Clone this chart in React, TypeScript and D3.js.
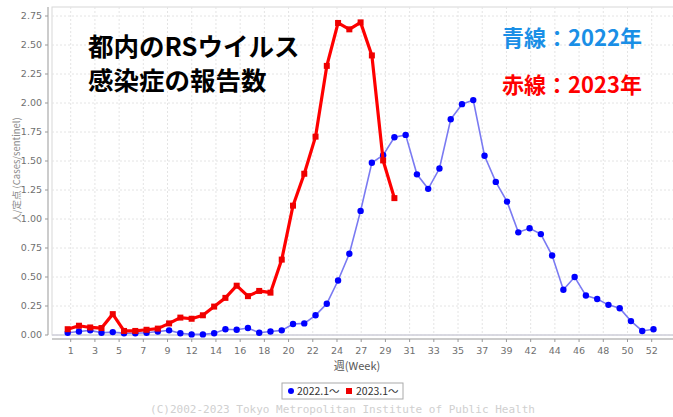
import React from 'react';
import * as d3 from 'd3';

// 2022 series (blue), one value per week slot
const series2022 = [
  0.02, 0.03, 0.04, 0.02, 0.025, 0.015, 0.015, 0.02, 0.03, 0.04,
  0.015, 0.005, 0.005, 0.015, 0.05, 0.045, 0.06, 0.02, 0.03, 0.04,
  0.095, 0.1, 0.17, 0.27, 0.47, 0.7, 1.07, 1.485, 1.55, 1.705,
  1.725, 1.385, 1.26, 1.435, 1.86, 1.99, 2.025, 1.545, 1.32, 1.15,
  0.885, 0.92, 0.87, 0.685, 0.39, 0.5, 0.34, 0.31, 0.26, 0.23,
  0.12, 0.035, 0.05,
];

// 2023 series (red)
const series2023 = [
  0.05, 0.08, 0.065, 0.06, 0.18, 0.035, 0.035, 0.045, 0.055, 0.1,
  0.15, 0.14, 0.17, 0.245, 0.32, 0.425, 0.335, 0.38, 0.365, 0.65,
  1.115, 1.39, 1.71, 2.32, 2.69, 2.635, 2.695, 2.41, 1.505, 1.18,
];

const weekLabels = [
  '1', '3', '5', '7', '9', '12', '14', '16', '18', '20', '22', '24', '27',
  '29', '31', '33', '35', '37', '39', '42', '44', '46', '48', '50', '52',
];

const yTicks = d3.range(0, 2.751, 0.25);

const legendItems = ['2022.1～', '2023.1～'];

export default function App() {
  const plotLeft = 52;
  const plotTop = 7;
  const plotBottom = 335;

  const y = d3.scaleLinear().domain([0, 2.75]).range([335, 16]);
  const x = d3.scaleLinear().domain([0, 52]).range([67.7, 653.5]);
  const xLab = d3.scaleLinear().domain([0, 24]).range([70.7, 651.7]);

  const line = d3
    .line<number>()
    .x((_, i) => x(i))
    .y((d) => y(d));

  const axisGrey = '#999';
  const tickText = '#707070';

  return (
    <svg
      width={673}
      height={417}
      style={{ position: 'absolute', left: 0, top: 0, background: '#fff' }}
      fontFamily="'DejaVu Sans', sans-serif"
    >
      {/* plot frame and grid */}
      <rect x={plotLeft} y={plotTop} width={640} height={plotBottom - plotTop} fill="#fff" stroke="#d8d8d8" />
      {yTicks.map((t) => (
        <line key={'hg' + t} x1={plotLeft} x2={673} y1={y(t)} y2={y(t)} stroke="#e4e4e4" strokeDasharray="2,2" />
      ))}
      {weekLabels.map((l, i) => (
        <line key={'vg' + i} x1={xLab(i)} x2={xLab(i)} y1={plotTop} y2={plotBottom} stroke="#e4e4e4" strokeDasharray="2,2" />
      ))}
      <line x1={plotLeft} x2={673} y1={plotBottom} y2={plotBottom} stroke="#c8c8d8" />

      {/* y axis */}
      <line x1={48} x2={48} y1={plotTop} y2={plotBottom} stroke={axisGrey} />
      {yTicks.map((t) => (
        <g key={'yt' + t}>
          <line x1={45} x2={48} y1={y(t)} y2={y(t)} stroke={axisGrey} />
          <text x={42} y={y(t)} dy="0.35em" textAnchor="end" fontSize={9.5} fill={tickText}>
            {t.toFixed(2)}
          </text>
        </g>
      ))}
      <text
        transform="translate(20,170) rotate(-90)"
        textAnchor="middle"
        fontSize={9.5}
        fill="#8a8a8a"
        fontFamily="'Noto Sans CJK JP', sans-serif"
      >
        人/定点 (Cases/sentinel)
      </text>

      {/* x axis */}
      <line x1={plotLeft} x2={673} y1={339} y2={339} stroke={axisGrey} />
      {weekLabels.map((l, i) => (
        <g key={'xt' + i}>
          <line x1={xLab(i)} x2={xLab(i)} y1={339} y2={342} stroke={axisGrey} />
          <text x={xLab(i)} y={354} textAnchor="middle" fontSize={9.5} fill={tickText}>
            {l}
          </text>
        </g>
      ))}
      <text x={357} y={370} textAnchor="middle" fontSize={11} fill="#555" fontFamily="'Noto Sans CJK JP', sans-serif">
        週(Week)
      </text>

      {/* series */}
      <path d={line(series2022) || ''} fill="none" stroke="#7a7af2" strokeWidth={1.6} />
      {series2022.map((d, i) => (
        <circle key={'b' + i} cx={x(i)} cy={y(d)} r={3.2} fill="#0000ff" />
      ))}
      <path d={line(series2023) || ''} fill="none" stroke="#ff0000" strokeWidth={3.2} strokeLinejoin="round" />
      {series2023.map((d, i) => (
        <rect key={'r' + i} x={x(i) - 3} y={y(d) - 3} width={6} height={6} fill="#ee0000" />
      ))}

      {/* titles */}
      <g fontFamily="'Noto Sans CJK JP', sans-serif" fontWeight={700}>
        <text x={88} y={56} fontSize={25.5} fill="#000">都内のRSウイルス</text>
        <text x={88} y={90} fontSize={25.5} fill="#000">感染症の報告数</text>
        <text x={502} y={46} fontSize={22} fill="#1a8fe6">青線：2022年</text>
        <text x={502} y={93} fontSize={22} fill="#ff0000">赤線：2023年</text>
      </g>

      {/* legend */}
      <rect x={282} y={383} width={121} height={16} fill="#fff" stroke="#aaa" />
      <circle cx={291} cy={391} r={3} fill="#0000ff" />
      <text x={297} y={391} dy="0.35em" fontSize={10.5} fill="#333" fontFamily="'Noto Sans CJK JP', sans-serif">
        {legendItems[0]}
      </text>
      <rect x={346} y={388} width={6} height={6} fill="#ee0000" />
      <text x={356} y={391} dy="0.35em" fontSize={10.5} fill="#333" fontFamily="'Noto Sans CJK JP', sans-serif">
        {legendItems[1]}
      </text>

      {/* copyright */}
      <text
        x={150}
        y={409}
        dy="0.35em"
        fontSize={11}
        fill="#d0d0d0"
        fontFamily="'DejaVu Sans Mono', monospace"
        textLength={385}
        lengthAdjust="spacingAndGlyphs"
      >
        (C)2002-2023 Tokyo Metropolitan Institute of Public Health
      </text>
    </svg>
  );
}
